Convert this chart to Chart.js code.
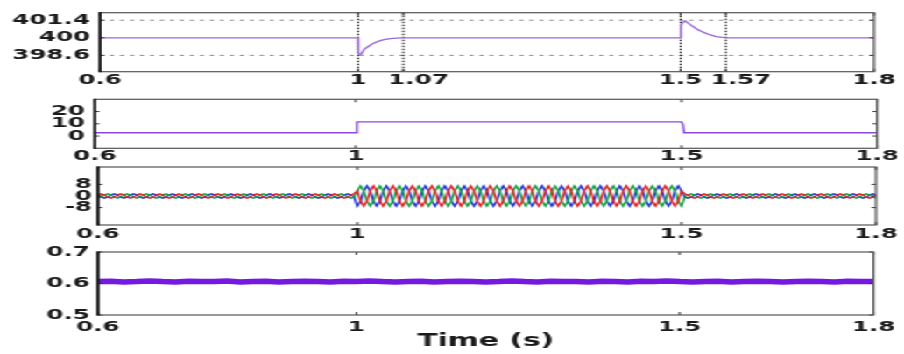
<!DOCTYPE html>
<html lang="en">
<head>
<meta charset="UTF-8">
<title>Voltage / current response</title>
<style>
  body { margin: 0; background: #fff; }
  /* the reference is a horizontally stretched figure, so the charts are drawn narrow and scaled */
  #wrap {
    position: absolute; left: 0; top: 0;
    width: 516px; height: 354px;
    transform: scaleX(1.752); transform-origin: 0 0;
  }
  #wrap canvas { position: absolute; left: 0; top: 0; }
</style>
<script src="https://cdn.jsdelivr.net/npm/chart.js"></script>
</head>
<body>
<div id="wrap">
  <canvas id="c1" width="516" height="354"></canvas>
  <canvas id="c2" width="516" height="354"></canvas>
  <canvas id="c3" width="516" height="354"></canvas>
  <canvas id="c4" width="516" height="354"></canvas>
</div>
<script>
// ---- panel 1: dc voltage
const vTime = [0.6, 1.0, 1.0005, 1.004, 1.01, 1.02, 1.03, 1.04, 1.05, 1.06, 1.07,
               1.5, 1.5005, 1.503, 1.507, 1.515, 1.525, 1.535, 1.545, 1.555, 1.565, 1.57, 1.8];
const vVal  = [400, 400, 398.75, 398.66, 399.1, 399.45, 399.7, 399.85, 399.93, 399.98, 400,
               400, 401.0, 401.2, 401.35, 401.05, 400.7, 400.45, 400.25, 400.1, 400.03, 400, 400];
const vXTicks = [0.6, 1, 1.07, 1.5, 1.57, 1.8];
const vXNudged = [1.07, 1.57];   // these labels sit a little right of their tick
const vYTicks = [398.6, 400, 401.4];

// ---- panel 2: load step
const pTime = [0.6, 1.0, 1.002, 1.5, 1.502, 1.504, 1.8];
const pVal  = [2.7, 2.7, 11.5, 11.5, 9.5, 2.7, 2.7];
const pYTicks = [0, 10, 20];

// ---- panel 3: three phase currents, one sample every 5 ms from 0.6 s
const iStart = 0.6, iStep = 0.005;
const iaVal = [
  0.75,1.5,0.75,-0.75,-1.5,-0.75,
  0.75,1.5,0.75,-0.75,-1.5,-0.75,
  0.75,1.5,0.75,-0.75,-1.5,-0.75,
  0.75,1.5,0.75,-0.75,-1.5,-0.75,
  0.75,1.5,0.75,-0.75,-1.5,-0.75,
  0.75,1.5,0.75,-0.75,-1.5,-0.75,
  0.75,1.5,0.75,-0.75,-1.5,-0.75,
  0.75,1.5,0.75,-0.75,-1.5,-0.75,
  0.75,1.5,0.75,-0.75,-1.5,-0.75,
  0.75,1.5,0.75,-0.75,-1.5,-0.75,
  0.75,1.5,0.75,-0.75,-1.5,-0.75,
  0.75,1.5,0.75,-0.75,-1.5,-0.75,
  0.75,1.5,0.75,-0.75,-1.5,-0.75,
  0.75,1.5,3.5,-3.5,-7,-3.5,
  3.5,7,3.5,-3.5,-7,-3.5,
  3.5,7,3.5,-3.5,-7,-3.5,
  3.5,7,3.5,-3.5,-7,-3.5,
  3.5,7,3.5,-3.5,-7,-3.5,
  3.5,7,3.5,-3.5,-7,-3.5,
  3.5,7,3.5,-3.5,-7,-3.5,
  3.5,7,3.5,-3.5,-7,-3.5,
  3.5,7,3.5,-3.5,-7,-3.5,
  3.5,7,3.5,-3.5,-7,-3.5,
  3.5,7,3.5,-3.5,-7,-3.5,
  3.5,7,3.5,-3.5,-7,-3.5,
  3.5,7,3.5,-3.5,-7,-3.5,
  3.5,7,3.5,-3.5,-7,-3.5,
  3.5,7,3.5,-3.5,-7,-3.5,
  3.5,7,3.5,-3.5,-7,-3.5,
  3.5,7,3.5,-3.5,-7,-3.5,
  3.5,1.5,0.75,-0.75,-1.5,-0.75,
  0.75,1.5,0.75,-0.75,-1.5,-0.75,
  0.75,1.5,0.75,-0.75,-1.5,-0.75,
  0.75,1.5,0.75,-0.75,-1.5,-0.75,
  0.75,1.5,0.75,-0.75,-1.5,-0.75,
  0.75,1.5,0.75,-0.75,-1.5,-0.75,
  0.75,1.5,0.75,-0.75,-1.5,-0.75,
  0.75,1.5,0.75,-0.75,-1.5,-0.75,
  0.75,1.5,0.75,-0.75,-1.5,-0.75,
  0.75,1.5,0.75,-0.75,-1.5,-0.75,
  0.75
];
const ibVal = [
  -1.5,-0.75,0.75,1.5,0.75,-0.75,
  -1.5,-0.75,0.75,1.5,0.75,-0.75,
  -1.5,-0.75,0.75,1.5,0.75,-0.75,
  -1.5,-0.75,0.75,1.5,0.75,-0.75,
  -1.5,-0.75,0.75,1.5,0.75,-0.75,
  -1.5,-0.75,0.75,1.5,0.75,-0.75,
  -1.5,-0.75,0.75,1.5,0.75,-0.75,
  -1.5,-0.75,0.75,1.5,0.75,-0.75,
  -1.5,-0.75,0.75,1.5,0.75,-0.75,
  -1.5,-0.75,0.75,1.5,0.75,-0.75,
  -1.5,-0.75,0.75,1.5,0.75,-0.75,
  -1.5,-0.75,0.75,1.5,0.75,-0.75,
  -1.5,-0.75,0.75,1.5,0.75,-0.75,
  -1.5,-0.75,3.5,7,3.5,-3.5,
  -7,-3.5,3.5,7,3.5,-3.5,
  -7,-3.5,3.5,7,3.5,-3.5,
  -7,-3.5,3.5,7,3.5,-3.5,
  -7,-3.5,3.5,7,3.5,-3.5,
  -7,-3.5,3.5,7,3.5,-3.5,
  -7,-3.5,3.5,7,3.5,-3.5,
  -7,-3.5,3.5,7,3.5,-3.5,
  -7,-3.5,3.5,7,3.5,-3.5,
  -7,-3.5,3.5,7,3.5,-3.5,
  -7,-3.5,3.5,7,3.5,-3.5,
  -7,-3.5,3.5,7,3.5,-3.5,
  -7,-3.5,3.5,7,3.5,-3.5,
  -7,-3.5,3.5,7,3.5,-3.5,
  -7,-3.5,3.5,7,3.5,-3.5,
  -7,-3.5,3.5,7,3.5,-3.5,
  -7,-3.5,3.5,7,3.5,-3.5,
  -7,-0.75,0.75,1.5,0.75,-0.75,
  -1.5,-0.75,0.75,1.5,0.75,-0.75,
  -1.5,-0.75,0.75,1.5,0.75,-0.75,
  -1.5,-0.75,0.75,1.5,0.75,-0.75,
  -1.5,-0.75,0.75,1.5,0.75,-0.75,
  -1.5,-0.75,0.75,1.5,0.75,-0.75,
  -1.5,-0.75,0.75,1.5,0.75,-0.75,
  -1.5,-0.75,0.75,1.5,0.75,-0.75,
  -1.5,-0.75,0.75,1.5,0.75,-0.75,
  -1.5,-0.75,0.75,1.5,0.75,-0.75,
  -1.5
];
const icVal = [
  0.75,-0.75,-1.5,-0.75,0.75,1.5,
  0.75,-0.75,-1.5,-0.75,0.75,1.5,
  0.75,-0.75,-1.5,-0.75,0.75,1.5,
  0.75,-0.75,-1.5,-0.75,0.75,1.5,
  0.75,-0.75,-1.5,-0.75,0.75,1.5,
  0.75,-0.75,-1.5,-0.75,0.75,1.5,
  0.75,-0.75,-1.5,-0.75,0.75,1.5,
  0.75,-0.75,-1.5,-0.75,0.75,1.5,
  0.75,-0.75,-1.5,-0.75,0.75,1.5,
  0.75,-0.75,-1.5,-0.75,0.75,1.5,
  0.75,-0.75,-1.5,-0.75,0.75,1.5,
  0.75,-0.75,-1.5,-0.75,0.75,1.5,
  0.75,-0.75,-1.5,-0.75,0.75,1.5,
  0.75,-0.75,-7,-3.5,3.5,7,
  3.5,-3.5,-7,-3.5,3.5,7,
  3.5,-3.5,-7,-3.5,3.5,7,
  3.5,-3.5,-7,-3.5,3.5,7,
  3.5,-3.5,-7,-3.5,3.5,7,
  3.5,-3.5,-7,-3.5,3.5,7,
  3.5,-3.5,-7,-3.5,3.5,7,
  3.5,-3.5,-7,-3.5,3.5,7,
  3.5,-3.5,-7,-3.5,3.5,7,
  3.5,-3.5,-7,-3.5,3.5,7,
  3.5,-3.5,-7,-3.5,3.5,7,
  3.5,-3.5,-7,-3.5,3.5,7,
  3.5,-3.5,-7,-3.5,3.5,7,
  3.5,-3.5,-7,-3.5,3.5,7,
  3.5,-3.5,-7,-3.5,3.5,7,
  3.5,-3.5,-7,-3.5,3.5,7,
  3.5,-3.5,-7,-3.5,3.5,7,
  3.5,-0.75,-1.5,-0.75,0.75,1.5,
  0.75,-0.75,-1.5,-0.75,0.75,1.5,
  0.75,-0.75,-1.5,-0.75,0.75,1.5,
  0.75,-0.75,-1.5,-0.75,0.75,1.5,
  0.75,-0.75,-1.5,-0.75,0.75,1.5,
  0.75,-0.75,-1.5,-0.75,0.75,1.5,
  0.75,-0.75,-1.5,-0.75,0.75,1.5,
  0.75,-0.75,-1.5,-0.75,0.75,1.5,
  0.75,-0.75,-1.5,-0.75,0.75,1.5,
  0.75,-0.75,-1.5,-0.75,0.75,1.5,
  0.75
];
const iYTicks = [-8, 0, 8];

// ---- panel 4: modulation index, one sample every 20 ms from 0.6 s
const mStart = 0.6, mStep = 0.02;
const mVal = [
  0.606,0.607,0.605,0.606,0.608,0.606,0.605,0.607,0.606,0.606,
  0.608,0.605,0.606,0.607,0.605,0.606,0.607,0.606,0.605,0.607,
  0.606,0.608,0.606,0.605,0.606,0.607,0.605,0.606,0.607,0.606,
  0.605,0.606,0.608,0.606,0.605,0.607,0.606,0.606,0.605,0.607,
  0.606,0.605,0.607,0.606,0.608,0.606,0.605,0.606,0.607,0.605,
  0.606,0.607,0.606,0.605,0.606,0.607,0.606,0.605,0.607,0.606,
  0.606
];
const mYTicks = [0.5, 0.6, 0.7];

const xTicks = [0.6, 1, 1.5, 1.8];

const pts = (tt, vv) => vv.map((v, i) => ({ x: tt[i], y: v }));
const iTime = iaVal.map((_, k) => +(iStart + k * iStep).toFixed(3));
const mTime = mVal.map((_, k) => +(mStart + k * mStep).toFixed(3));

const tickFont = { family: 'DejaVu Sans', size: 14, weight: 'bold', lineHeight: 1 };

// frame, inner tick marks and the dashed / dotted guide lines
const boxPlugin = {
  id: 'box',
  beforeDatasetsDraw(chart, args, o) {
    const { ctx, chartArea: a, scales: { x, y } } = chart;
    ctx.save();
    if (o.gridY) {
      ctx.strokeStyle = '#777'; ctx.lineWidth = 0.9; ctx.setLineDash([2.3, 3.4]);
      o.gridY.forEach(v => {
        const py = y.getPixelForValue(v);
        ctx.beginPath(); ctx.moveTo(a.left, py); ctx.lineTo(a.right, py); ctx.stroke();
      });
    }
    if (o.gridX) {
      ctx.strokeStyle = '#111'; ctx.lineWidth = 1; ctx.setLineDash([1.5, 1.5]);
      o.gridX.forEach(v => {
        const px = x.getPixelForValue(v);
        ctx.beginPath(); ctx.moveTo(px, a.top); ctx.lineTo(px, a.bottom); ctx.stroke();
      });
    }
    ctx.restore();
  },
  afterDatasetsDraw(chart) {
    const { ctx, chartArea: a, scales: { x, y } } = chart;
    ctx.save();
    ctx.strokeStyle = '#333';
    ctx.lineWidth = 1;
    x.ticks.forEach(t => {
      const px = x.getPixelForValue(t.value);
      ctx.beginPath();
      ctx.moveTo(px, a.top); ctx.lineTo(px, a.top + 3);
      ctx.moveTo(px, a.bottom); ctx.lineTo(px, a.bottom - 3);
      ctx.stroke();
    });
    y.ticks.forEach(t => {
      const py = y.getPixelForValue(t.value);
      ctx.beginPath();
      ctx.moveTo(a.left, py); ctx.lineTo(a.left + 2.5, py);
      ctx.moveTo(a.right, py); ctx.lineTo(a.right - 2.5, py);
      ctx.stroke();
    });
    ctx.strokeStyle = '#555';
    ctx.lineWidth = 1.2;
    ctx.strokeRect(a.left, a.top, a.right - a.left, a.bottom - a.top);
    ctx.strokeStyle = '#111';
    ctx.lineWidth = 1.6;
    ctx.beginPath(); ctx.moveTo(a.left, a.top - 0.6); ctx.lineTo(a.left, a.bottom + 0.6); ctx.stroke();
    ctx.restore();
  }
};

function panel(id, p) {
  const xh = p.xh || 20;
  const nudged = p.nudged || [];
  return new Chart(document.getElementById(id), {
    type: 'line',
    data: { datasets: p.datasets },
    options: {
      responsive: false,
      animation: false,
      events: [],
      layout: { padding: { top: p.top, bottom: 354 - p.bottom - xh, left: 0, right: p.right } },
      plugins: { legend: { display: false }, tooltip: { enabled: false }, box: p.box || {} },
      elements: { point: { radius: 0 }, line: { tension: 0 } },
      scales: {
        x: {
          type: 'linear', min: 0.6, max: 1.8,
          grid: { display: false, drawTicks: false }, border: { display: false },
          afterBuildTicks: s => { s.ticks = p.xTicks.map(v => ({ value: v })); },
          afterFit: s => { s.height = xh; },
          ticks: {
            autoSkip: false, maxRotation: 0, padding: p.xPad,
            color: '#1a1a1a', font: tickFont,
            // leading blanks push the crowded labels to the right of their tick
            callback: v => (nudged.includes(v) ? '   \u2009' : '') + String(v)
          },
          title: p.title ? {
            display: true, text: p.title, color: '#1a1a1a',
            font: { family: 'DejaVu Sans', size: 17, weight: 'bold', lineHeight: 1 },
            padding: { top: 0, bottom: 3.5 }
          } : { display: false }
        },
        y: {
          type: 'linear', min: p.yMin, max: p.yMax,
          grid: { display: false, drawTicks: false }, border: { display: false },
          afterBuildTicks: s => { s.ticks = p.yTicks.map(v => ({ value: v })); },
          afterFit: s => { s.width = p.left; },
          ticks: {
            autoSkip: false, padding: p.yPad,
            color: '#1a1a1a', font: tickFont, callback: v => String(v)
          }
        }
      }
    },
    plugins: [boxPlugin]
  });
}

panel('c1', {
  top: 8.3, bottom: 71.7, left: 57.1, right: 17.1, xPad: 1.4, yPad: 5.7,
  yMin: 397.3, yMax: 402, yTicks: vYTicks, xTicks: vXTicks, nudged: vXNudged,
  box: { gridY: [398.6, 401.4], gridX: [1, 1.07, 1.5, 1.57] },
  datasets: [{ data: pts(vTime, vVal), borderColor: '#9a6bd8', borderWidth: 1.3 }]
});

panel('c2', {
  top: 99.3, bottom: 148.3, left: 54.2, right: 15.4, xPad: 1.4, yPad: 5.7,
  yMin: -10, yMax: 30, yTicks: pYTicks, xTicks: xTicks,
  datasets: [{ data: pts(pTime, pVal), borderColor: '#8a48e0', borderWidth: 1.3 }]
});

panel('c3', {
  top: 167, bottom: 225, left: 55.9, right: 16, xPad: 2, yPad: 3.4,
  yMin: -20, yMax: 20, yTicks: iYTicks, xTicks: xTicks,
  datasets: [
    { data: pts(iTime, iaVal), borderColor: '#e02020', borderWidth: 1.3 },
    { data: pts(iTime, ibVal), borderColor: '#12a040', borderWidth: 1.3 },
    { data: pts(iTime, icVal), borderColor: '#1f35d0', borderWidth: 1.3 }
  ]
});

panel('c4', {
  top: 252, bottom: 315, left: 55.9, right: 16.6, xPad: 5, yPad: 4.6, xh: 39,
  yMin: 0.5, yMax: 0.7, yTicks: mYTicks, xTicks: xTicks, title: 'Time (s)',
  datasets: [{ data: pts(mTime, mVal), borderColor: '#7418e2', borderWidth: 5.5 }]
});
</script>
</body>
</html>
